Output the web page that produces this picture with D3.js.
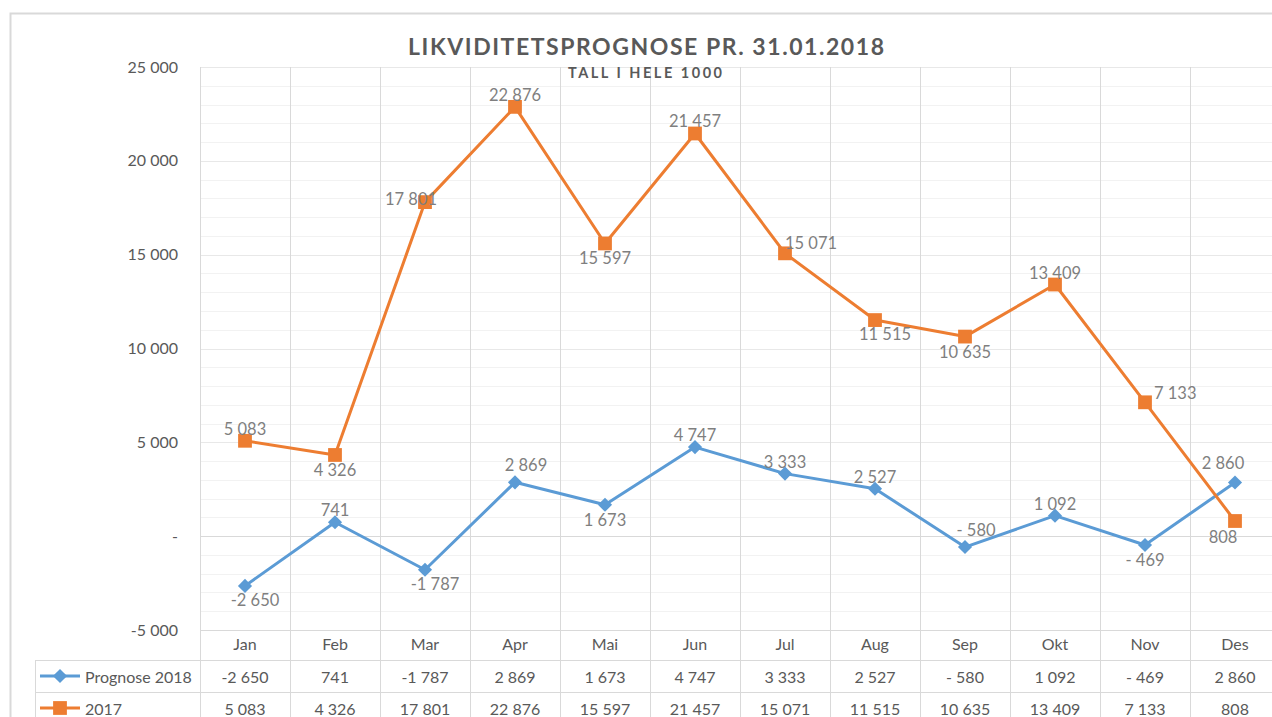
<!DOCTYPE html>
<html>
<head>
<meta charset="utf-8">
<script src="https://cdnjs.cloudflare.com/ajax/libs/d3/7.8.5/d3.min.js"></script>
<style>
  body { margin: 0; background: #fff; }
  text { font-family: Lato, "Open Sans", sans-serif; }
</style>
</head>
<body>
<div id="chart"></div>
<script>
var months = ["Jan", "Feb", "Mar", "Apr", "Mai", "Jun", "Jul", "Aug", "Sep", "Okt", "Nov", "Des"];
var prognose2018 = [-2650, 741, -1787, 2869, 1673, 4747, 3333, 2527, -580, 1092, -469, 2860];
var values2017 = [5083, 4326, 17801, 22876, 15597, 21457, 15071, 11515, 10635, 13409, 7133, 808];
var seriesNames = ["Prognose 2018", "2017"];
var yTicks = [-5000, 0, 5000, 10000, 15000, 20000, 25000];

// where Excel put each data label (t = above, b = below, l/r = side, combos = corner)
var placePrognose = ["br", "t", "br", "tr", "b", "t", "t", "t", "tr", "t", "b", "tl"];
var place2017 = ["t", "b", "l", "t", "b", "t", "r", "br", "b", "t", "r2", "bl"];

var W = 1272, H = 717;
var plot = { left: 200, right: 1280, top: 67, bottom: 630 };

var svg = d3.select("#chart").append("svg")
  .attr("width", W)
  .attr("height", H);

// outer chart frame
svg.append("rect")
  .attr("x", 10.5).attr("y", 13.5)
  .attr("width", 1300).attr("height", 730)
  .attr("fill", "#fff")
  .attr("stroke", "#d9d9d9")
  .attr("stroke-width", 2);

var x = d3.scaleBand().domain(months).range([plot.left, plot.right]);
var y = d3.scaleLinear().domain([-5000, 25000]).range([plot.bottom, plot.top]);

function fmt(v) {
  if (v === 0) return "-";
  var s = d3.format(",")(Math.abs(v)).replace(/,/g, " ");
  if (v < 0) return Math.abs(v) < 1000 ? "- " + s : "-" + s;
  return s;
}

// minor horizontal gridlines every 1000
var grid = svg.append("g");
grid.selectAll("line.minor")
  .data(y.ticks(30))
  .enter().append("line")
  .attr("class", "minor")
  .attr("x1", plot.left).attr("x2", plot.right)
  .attr("y1", function(d) { return Math.round(y(d)) + 0.5; })
  .attr("y2", function(d) { return Math.round(y(d)) + 0.5; })
  .attr("stroke", function(d) { return d % 5000 === 0 ? "#e8e8e8" : "#f2f2f2"; })
  .attr("stroke-width", 1);

// vertical category gridlines, running through the data table
grid.selectAll("line.vert")
  .data(months)
  .enter().append("line")
  .attr("x1", function(d) { return Math.round(x(d)) + 0.5; })
  .attr("x2", function(d) { return Math.round(x(d)) + 0.5; })
  .attr("y1", plot.top).attr("y2", H)
  .attr("stroke", "#d9d9d9");

// zero line and bottom of plot
[0, -5000].forEach(function(v) {
  svg.append("line")
    .attr("x1", plot.left).attr("x2", plot.right)
    .attr("y1", Math.round(y(v)) + 0.5).attr("y2", Math.round(y(v)) + 0.5)
    .attr("stroke", "#d9d9d9");
});

// y axis labels
var yAxis = d3.axisLeft(y).tickValues(yTicks).tickSize(0).tickPadding(0).tickFormat(fmt);
var gy = svg.append("g")
  .attr("transform", "translate(178,0)")
  .call(yAxis);
gy.select(".domain").remove();
gy.selectAll("text")
  .attr("fill", "#595959")
  .style("font-size", "16px")
  .style("font-family", "Lato, sans-serif");

// category labels
var xAxis = d3.axisBottom(x).tickSize(0).tickPadding(0);
var gx = svg.append("g")
  .attr("transform", "translate(0,639)")
  .call(xAxis);
gx.select(".domain").remove();
gx.selectAll("text")
  .attr("fill", "#595959")
  .style("font-size", "16px")
  .style("font-family", "Lato, sans-serif");

// title
svg.append("text")
  .attr("x", 646).attr("y", 55)
  .attr("text-anchor", "middle")
  .attr("textLength", 476)
  .attr("lengthAdjust", "spacing")
  .attr("fill", "#595959")
  .style("font-size", "23px")
  .style("font-weight", "bold")
  .text("LIKVIDITETSPROGNOSE PR. 31.01.2018");

svg.append("text")
  .attr("x", 645).attr("y", 78)
  .attr("text-anchor", "middle")
  .attr("textLength", 154)
  .attr("lengthAdjust", "spacing")
  .attr("fill", "#595959")
  .style("font-size", "14.5px")
  .style("font-weight", "bold")
  .text("TALL I HELE 1000");

var offsets = {
  t: [0, -12, "middle"], b: [0, 15, "middle"],
  tr: [11, -17, "middle"], br: [10, 14, "middle"],
  tl: [-12, -19, "middle"], bl: [-12, 16, "middle"],
  l: [-14, -3, "middle"], r: [0, -10, "start"], r2: [9, -9, "start"]
};

// diamonds are squares turned 45 degrees, as in Excel
var series = [
  { name: seriesNames[0], values: prognose2018, color: "#5b9bd5", size: 100, rotate: 45, place: placePrognose },
  { name: seriesNames[1], values: values2017, color: "#ed7d31", size: 190, rotate: 0, place: place2017 }
];

var line = d3.line()
  .x(function(d, i) { return x(months[i]) + x.bandwidth() / 2; })
  .y(function(d) { return y(d); });

series.forEach(function(s) {
  var g = svg.append("g");
  g.append("path")
    .datum(s.values)
    .attr("d", line)
    .attr("fill", "none")
    .attr("stroke", s.color)
    .attr("stroke-width", 3)
    .attr("stroke-linejoin", "round");

  g.selectAll("path.mark")
    .data(s.values)
    .enter().append("path")
    .attr("class", "mark")
    .attr("d", d3.symbol().type(d3.symbolSquare).size(s.size))
    .attr("transform", function(d, i) {
      return "translate(" + (x(months[i]) + x.bandwidth() / 2) + "," + y(d) + ") rotate(" + s.rotate + ")";
    })
    .attr("fill", s.color);

  g.selectAll("text.lbl")
    .data(s.values)
    .enter().append("text")
    .attr("class", "lbl")
    .attr("x", function(d, i) { return x(months[i]) + x.bandwidth() / 2 + offsets[s.place[i]][0]; })
    .attr("y", function(d, i) { return y(d) + offsets[s.place[i]][1]; })
    .attr("text-anchor", function(d, i) { return offsets[s.place[i]][2]; })
    .attr("dominant-baseline", "central")
    .attr("fill", "#7f7f7f")
    .style("font-size", "16.5px")
    .text(fmt);
});

// data table below the plot
var tableTop = 660, rowH = 32;
var table = svg.append("g");
[tableTop, tableTop + rowH].forEach(function(ty) {
  table.append("line")
    .attr("x1", 35).attr("x2", plot.right)
    .attr("y1", ty + 0.5).attr("y2", ty + 0.5)
    .attr("stroke", "#d9d9d9");
});
table.append("line")
  .attr("x1", 35.5).attr("x2", 35.5)
  .attr("y1", tableTop).attr("y2", H)
  .attr("stroke", "#d9d9d9");

series.forEach(function(s, r) {
  var cy = tableTop + rowH * r + rowH / 2;
  table.append("line")
    .attr("x1", 40).attr("x2", 80)
    .attr("y1", cy).attr("y2", cy)
    .attr("stroke", s.color)
    .attr("stroke-width", 3);
  table.append("path")
    .attr("d", d3.symbol().type(d3.symbolSquare).size(s.size))
    .attr("transform", "translate(60," + cy + ") rotate(" + s.rotate + ")")
    .attr("fill", s.color);
  table.append("text")
    .attr("x", 85).attr("y", cy)
    .attr("dominant-baseline", "central")
    .attr("fill", "#595959")
    .style("font-size", "16px")
    .text(s.name);
  table.selectAll("text.v" + r)
    .data(s.values)
    .enter().append("text")
    .attr("class", "v" + r)
    .attr("x", function(d, i) { return x(months[i]) + x.bandwidth() / 2; })
    .attr("y", cy)
    .attr("text-anchor", "middle")
    .attr("dominant-baseline", "central")
    .attr("fill", "#595959")
    .style("font-size", "16px")
    .text(fmt);
});
</script>
</body>
</html>
